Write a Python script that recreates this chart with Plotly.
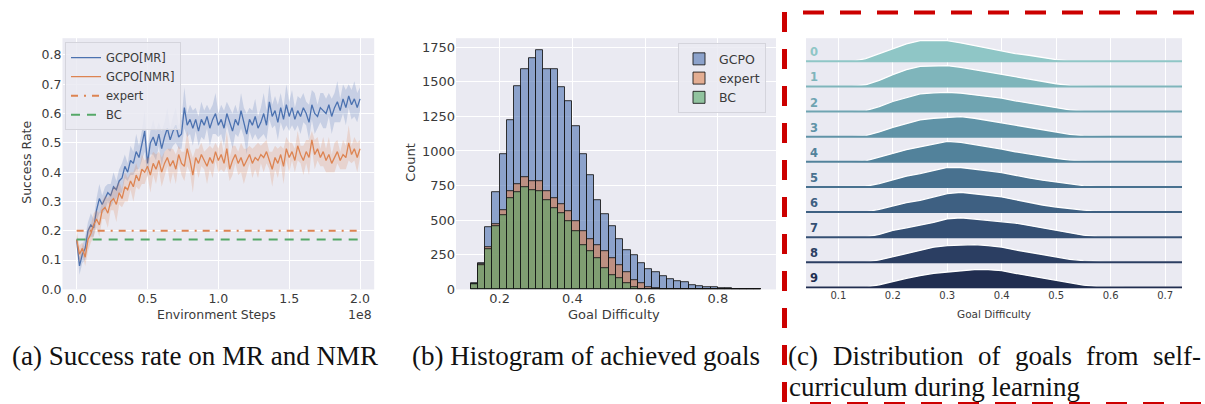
import plotly.graph_objects as go

# ---------------- DATA ----------------
# (a) success rate curves, x in units of environment steps
STEP_INTERVAL = 2e6
GCPO_MR = [0.17, 0.08, 0.12, 0.14, 0.20, 0.22, 0.21, 0.27, 0.31, 0.29,
           0.31, 0.33, 0.32, 0.35, 0.34, 0.37, 0.38, 0.42, 0.40, 0.44,
           0.43, 0.47, 0.45, 0.49, 0.54, 0.43, 0.50, 0.52, 0.49, 0.53,
           0.48, 0.52, 0.55, 0.51, 0.54, 0.56, 0.52, 0.53, 0.62, 0.56,
           0.58, 0.55, 0.58, 0.54, 0.58, 0.56, 0.59, 0.55, 0.58, 0.60,
           0.56, 0.58, 0.55, 0.60, 0.57, 0.54, 0.58, 0.56, 0.61, 0.57,
           0.53, 0.58, 0.56, 0.59, 0.55, 0.57, 0.60, 0.56, 0.64, 0.59,
           0.61, 0.57, 0.62, 0.58, 0.63, 0.59, 0.62, 0.58, 0.61, 0.59,
           0.62, 0.60, 0.57, 0.63, 0.60, 0.59, 0.62, 0.61, 0.60, 0.63,
           0.59, 0.62, 0.64, 0.61, 0.65, 0.62, 0.66, 0.63, 0.65, 0.62,
           0.65]
GCPO_MR_SPREAD = [0.02, 0.03, 0.03, 0.04, 0.03, 0.04, 0.03, 0.04, 0.05, 0.03,
                  0.04, 0.03, 0.04, 0.05, 0.03, 0.04, 0.05, 0.04, 0.03, 0.05,
                  0.04, 0.06, 0.04, 0.05, 0.07, 0.05, 0.04, 0.06, 0.05, 0.04,
                  0.06, 0.05, 0.07, 0.04, 0.05, 0.06, 0.04, 0.05, 0.07, 0.04,
                  0.05, 0.06, 0.04, 0.05, 0.06, 0.05, 0.04, 0.06, 0.05, 0.07,
                  0.04, 0.05, 0.06, 0.04, 0.05, 0.06, 0.05, 0.04, 0.06, 0.05,
                  0.07, 0.04, 0.05, 0.06, 0.04, 0.05, 0.07, 0.05, 0.06, 0.04,
                  0.05, 0.06, 0.05, 0.04, 0.07, 0.05, 0.06, 0.04, 0.05, 0.06,
                  0.05, 0.04, 0.06, 0.05, 0.07, 0.04, 0.05, 0.06, 0.05, 0.04,
                  0.06, 0.05, 0.07, 0.04, 0.05, 0.06, 0.04, 0.05, 0.06, 0.05,
                  0.04]
GCPO_NMR = [0.17, 0.12, 0.14, 0.11, 0.17, 0.19, 0.22, 0.24, 0.22, 0.27,
            0.28, 0.26, 0.30, 0.31, 0.29, 0.33, 0.31, 0.35, 0.34, 0.37,
            0.35, 0.39, 0.37, 0.41, 0.40, 0.42, 0.39, 0.43, 0.41, 0.44,
            0.40, 0.43, 0.45, 0.42, 0.44, 0.41, 0.46, 0.43, 0.42, 0.48,
            0.44, 0.39, 0.45, 0.43, 0.46, 0.44, 0.42, 0.45, 0.43, 0.47,
            0.44, 0.46, 0.43, 0.48, 0.41, 0.44, 0.46, 0.43, 0.45, 0.42,
            0.44, 0.46, 0.43, 0.45, 0.44, 0.46, 0.45, 0.47, 0.44, 0.41,
            0.45, 0.43, 0.46, 0.42, 0.48, 0.45, 0.47, 0.44, 0.49, 0.46,
            0.44, 0.47, 0.45, 0.51, 0.46, 0.48, 0.45, 0.47, 0.44, 0.46,
            0.43, 0.45, 0.47, 0.44, 0.46, 0.45, 0.50, 0.46, 0.48, 0.45,
            0.48]
GCPO_NMR_SPREAD = [0.03, 0.03, 0.02, 0.03, 0.04, 0.03, 0.04, 0.03, 0.04, 0.03,
                   0.04, 0.05, 0.03, 0.04, 0.06, 0.04, 0.03, 0.05, 0.04, 0.03,
                   0.05, 0.04, 0.03, 0.05, 0.04, 0.03, 0.06, 0.04, 0.05, 0.03,
                   0.05, 0.04, 0.03, 0.06, 0.04, 0.05, 0.03, 0.04, 0.05, 0.06,
                   0.04, 0.06, 0.03, 0.05, 0.04, 0.03, 0.06, 0.04, 0.05, 0.03,
                   0.04, 0.05, 0.03, 0.06, 0.04, 0.05, 0.03, 0.04, 0.05, 0.06,
                   0.04, 0.03, 0.05, 0.04, 0.06, 0.03, 0.05, 0.04, 0.03, 0.06,
                   0.04, 0.05, 0.03, 0.06, 0.04, 0.05, 0.03, 0.04, 0.05, 0.03,
                   0.05, 0.04, 0.06, 0.03, 0.05, 0.04, 0.03, 0.05, 0.04, 0.06,
                   0.03, 0.05, 0.04, 0.03, 0.05, 0.04, 0.06, 0.03, 0.04, 0.05,
                   0.03]
EXPERT_RATE = 0.20
BC_RATE = 0.17
A_XTICK_VALS = [0, 0.5e8, 1.0e8, 1.5e8, 2.0e8]
A_XTICK_TEXT = ["0.0", "0.5", "1.0", "1.5", "2.0"]

# (b) histogram of achieved goals (bin width 0.02 starting at 0.12)
HIST_START = 0.12
HIST_BIN = 0.02
HIST_GCPO = [43, 193, 447, 702, 980, 1221, 1468, 1588, 1673, 1728,
             1588, 1588, 1460, 1359, 1178, 978, 823, 647, 543, 454,
             365, 285, 244, 188, 145, 128, 97, 75, 56, 51,
             31, 27, 19, 19, 12, 7, 4, 3, 2, 2]
HIST_EXPERT = [40, 185, 302, 470, 575, 707, 760, 811, 785, 785,
               707, 659, 616, 562, 490, 418, 365, 321, 273, 225,
               176, 128, 68, 43, 19, 7, 3, 1, 0, 0,
               0, 0, 0, 0, 0, 0, 0, 0, 0, 0]
HIST_BC = [38, 176, 292, 454, 538, 659, 702, 736, 719, 712,
           647, 587, 550, 490, 422, 321, 273, 225, 152, 104,
           80, 43, 19, 5, 3, 0, 0, 0, 0, 0,
           0, 0, 0, 0, 0, 0, 0, 0, 0, 0]

# (c) ridge densities of goal difficulty per curriculum stage
RIDGE_X = [0.05, 0.075, 0.1, 0.125, 0.15, 0.175, 0.2, 0.225, 0.25, 0.275,
           0.3, 0.325, 0.35, 0.375, 0.4, 0.425, 0.45, 0.475, 0.5, 0.525,
           0.55, 0.575, 0.6, 0.625, 0.65, 0.675, 0.7, 0.725]
RIDGE_LABELS = ["0", "1", "2", "3", "4", "5", "6", "7", "8", "9"]
RIDGE_0 = [0, 0, 0, 0, 0.8, 2.2, 3.8, 5.2, 6.2, 6.3, 6.2, 5.5, 4.7, 3.9, 3.0, 2.3, 1.8, 1.1, 0.5, 0.1, 0, 0, 0, 0, 0, 0, 0, 0]
RIDGE_1 = [0, 0, 0, 0, 0.5, 1.8, 3.5, 5.0, 6.0, 6.1, 6.2, 5.7, 5.0, 4.4, 3.6, 2.9, 2.3, 1.4, 0.8, 0.3, 0.1, 0, 0, 0, 0, 0, 0, 0]
RIDGE_2 = [0, 0, 0, 0, 0.3, 1.5, 3.0, 4.2, 5.3, 5.6, 5.7, 5.5, 5.0, 4.6, 4.0, 3.2, 2.5, 1.8, 1.1, 0.5, 0.2, 0.05, 0, 0, 0, 0, 0, 0]
RIDGE_3 = [0, 0, 0, 0, 0.3, 1.4, 2.8, 4.0, 5.0, 5.5, 5.8, 6.0, 5.5, 4.8, 4.0, 3.3, 2.7, 2.1, 1.3, 0.7, 0.3, 0.1, 0.03, 0, 0, 0, 0, 0]
RIDGE_4 = [0, 0, 0, 0, 0.3, 1.3, 2.5, 3.6, 4.5, 5.4, 6.1, 5.8, 5.2, 4.5, 3.8, 3.0, 2.3, 1.7, 1.0, 0.5, 0.2, 0.05, 0, 0, 0, 0, 0, 0]
RIDGE_5 = [0, 0, 0, 0, 0.2, 1.0, 2.2, 3.2, 4.0, 4.8, 5.8, 5.8, 5.2, 4.8, 4.3, 3.4, 2.7, 2.0, 1.4, 0.8, 0.4, 0.1, 0.05, 0, 0, 0, 0, 0]
RIDGE_6 = [0, 0, 0, 0, 0.05, 0.8, 1.8, 2.8, 3.5, 4.4, 5.5, 5.9, 5.5, 5.0, 4.5, 3.7, 2.8, 2.1, 1.5, 1.0, 0.6, 0.3, 0.1, 0.03, 0, 0, 0, 0]
RIDGE_7 = [0, 0, 0, 0, 0.05, 0.8, 2.0, 2.8, 3.5, 4.4, 5.5, 5.8, 5.4, 5.0, 4.7, 4.2, 3.5, 2.8, 2.0, 1.2, 0.6, 0.2, 0.1, 0.03, 0, 0, 0, 0]
RIDGE_8 = [0, 0, 0, 0, 0.05, 0.7, 1.7, 2.7, 3.7, 4.5, 5.0, 5.2, 5.3, 5.0, 4.5, 3.7, 3.0, 2.2, 1.5, 0.9, 0.5, 0.2, 0.1, 0.05, 0.02, 0, 0, 0]
RIDGE_9 = [0, 0, 0, 0, 0.1, 0.8, 1.8, 2.7, 3.5, 4.2, 4.6, 5.0, 5.3, 5.3, 5.0, 4.2, 3.5, 2.8, 2.0, 1.3, 0.7, 0.3, 0.1, 0.05, 0.02, 0, 0, 0]
RIDGES = [RIDGE_0, RIDGE_1, RIDGE_2, RIDGE_3, RIDGE_4, RIDGE_5, RIDGE_6, RIDGE_7, RIDGE_8, RIDGE_9]
C_XTICKS = [0.1, 0.2, 0.3, 0.4, 0.5, 0.6, 0.7]

# captions
CAPTION_A = "(a) Success rate on MR and NMR"
CAPTION_B = "(b) Histogram of achieved goals"
CAPTION_C_LINE1 = ["(c)", "Distribution", "of", "goals", "from", "self-"]
CAPTION_C_LINE2 = "curriculum during learning"

# ---------------- STYLE ----------------
W, H = 1205, 414          # page is captured ~10px taller than 404; fill it
REF_H = 404               # layout positions below are measured on a 404-px-tall reference
BG = "#eaeaf2"
BLUE, ORANGE, GREEN = "#4c72b0", "#dd8452", "#55a868"
RIDGE_COLORS = ["#8fc6c6", "#7fb5bb", "#6fa4b1", "#6093a7", "#52829b",
                "#48718f", "#3e6082", "#344f73", "#2b3e62", "#212e50"]
SANS = "DejaVu Sans"
SERIF = "Liberation Serif"
TXT = "#3a3a3a"
RIDGE_STEP = 7.5
C_WORD_X = [787, 831.5, 976.5, 1013.5, 1085, 1152]   # justified word positions (px)


def xd(px):
    return px / W


def yd(px):
    return 1 - px / REF_H


def rgba(color, a):
    return f"rgba({int(color[1:3], 16)},{int(color[3:5], 16)},{int(color[5:7], 16)},{a})"


fig = go.Figure()

steps = [i * STEP_INTERVAL for i in range(len(GCPO_MR))]

# (a) bands + lines
for mean, spread, color, name in [(GCPO_MR, GCPO_MR_SPREAD, BLUE, "GCPO[MR]"),
                                   (GCPO_NMR, GCPO_NMR_SPREAD, ORANGE, "GCPO[NMR]")]:
    lo = [m - s for m, s in zip(mean, spread)]
    hi = [m + s for m, s in zip(mean, spread)]
    fig.add_trace(go.Scatter(x=steps, y=lo, mode="lines", line=dict(width=0),
                             showlegend=False, hoverinfo="skip", xaxis="x", yaxis="y"))
    fig.add_trace(go.Scatter(x=steps, y=hi, mode="lines", line=dict(width=0),
                             fill="tonexty", fillcolor=rgba(color, 0.22),
                             showlegend=False, hoverinfo="skip", xaxis="x", yaxis="y"))
    fig.add_trace(go.Scatter(x=steps, y=mean, mode="lines", name=name,
                             line=dict(color=color, width=1.3),
                             xaxis="x", yaxis="y", legend="legend"))

fig.add_trace(go.Scatter(x=[steps[0], steps[-1]], y=[EXPERT_RATE, EXPERT_RATE], mode="lines",
                         name="expert", line=dict(color=ORANGE, width=2, dash="7px,6px,2px,6px"),
                         xaxis="x", yaxis="y", legend="legend"))
fig.add_trace(go.Scatter(x=[steps[0], steps[-1]], y=[BC_RATE, BC_RATE], mode="lines",
                         name="BC", line=dict(color=GREEN, width=2, dash="9px,7px"),
                         xaxis="x", yaxis="y", legend="legend"))

# (b) histogram
centers = [HIST_START + HIST_BIN * (i + 0.5) for i in range(len(HIST_GCPO))]
for counts, color, name in [(HIST_GCPO, BLUE, "GCPO"), (HIST_EXPERT, ORANGE, "expert"),
                            (HIST_BC, GREEN, "BC")]:
    fig.add_trace(go.Bar(x=centers, y=counts, width=HIST_BIN, name=name,
                         marker=dict(color=rgba(color, 0.6),
                                     line=dict(color="rgba(20,20,20,0.85)", width=1)),
                         xaxis="x2", yaxis="y2", legend="legend2"))

# (c) ridges
shapes = []
annotations = []
for k, dens in enumerate(RIDGES):
    base = (len(RIDGES) - 1 - k) * RIDGE_STEP
    xs = RIDGE_X + [RIDGE_X[-1], RIDGE_X[0]]
    ys = [base + d for d in dens] + [base, base]
    fig.add_trace(go.Scatter(x=xs, y=ys, mode="lines", fill="toself",
                             fillcolor=RIDGE_COLORS[k], line=dict(width=0),
                             showlegend=False, hoverinfo="skip", xaxis="x3", yaxis="y3"))
    fig.add_trace(go.Scatter(x=RIDGE_X, y=[base + d for d in dens], mode="lines",
                             line=dict(color="white", width=1.3),
                             showlegend=False, hoverinfo="skip", xaxis="x3", yaxis="y3"))
    shapes.append(dict(type="line", xref="x3 domain", yref="y3", x0=0, x1=1, y0=base, y1=base,
                       line=dict(color=RIDGE_COLORS[k], width=2)))
    annotations.append(dict(text=f"<b>{RIDGE_LABELS[k]}</b>", xref="x3 domain", yref="y3",
                            x=0.005, y=base, xanchor="left", yanchor="bottom", showarrow=False,
                            font=dict(family=SANS, size=11.5, color=RIDGE_COLORS[k])))

# red dashed box (kept inside the page)
RED = "#cc0000"
shapes += [
    dict(type="line", xref="paper", yref="paper", x0=xd(784.5), x1=xd(784.5), y0=yd(12), y1=0,
         line=dict(color=RED, width=5, dash="20px,17px")),
    dict(type="line", xref="paper", yref="paper", x0=xd(803), x1=1, y0=yd(12.5), y1=yd(12.5),
         line=dict(color=RED, width=4, dash="21px,16px")),
    dict(type="line", xref="paper", yref="paper", x0=xd(810), x1=1, y0=yd(402), y1=yd(402),
         line=dict(color=RED, width=4, dash="21px,16px")),
]


def ann(text, x, y, size, family=SANS, color=TXT, angle=0, xanchor="center"):
    annotations.append(dict(text=text, xref="paper", yref="paper", x=xd(x), y=yd(y),
                            xanchor=xanchor, yanchor="middle", showarrow=False, textangle=angle,
                            borderpad=0, font=dict(family=family, size=size, color=color)))


ann("Success Rate", 27, 162, 12.5, angle=-90)
ann("Environment Steps", 216, 313, 12.5)
ann("1e8", 373, 313, 12.5, xanchor="right")
ann("Count", 411, 162, 13, angle=-90)
ann("Goal Difficulty", 614, 313, 13)
ann("Goal Difficulty", 994, 312, 10.5)

ann(CAPTION_A, 195, 354.5, 27, family=SERIF, color="#111")
ann(CAPTION_B, 586, 354.5, 27, family=SERIF, color="#111")
for word, xpos in zip(CAPTION_C_LINE1, C_WORD_X):
    ann(word, xpos, 354, 27, family=SERIF, color="#111", xanchor="left")
ann(CAPTION_C_LINE2, 788, 385, 27, family=SERIF, color="#111", xanchor="left")

axis_common = dict(showline=False, zeroline=False, ticks="", gridcolor="white", gridwidth=1.2)

fig.update_layout(
    width=W, height=H, margin=dict(l=0, r=0, t=0, b=0),
    paper_bgcolor="white", plot_bgcolor=BG,
    barmode="overlay", bargap=0,
    shapes=shapes, annotations=annotations,
    xaxis=dict(domain=[xd(62.5), xd(374.2)], range=[-0.1e8, 2.1e8], anchor="y",
               tickvals=A_XTICK_VALS, ticktext=A_XTICK_TEXT,
               tickfont=dict(family=SANS, size=12.5, color=TXT), **axis_common),
    yaxis=dict(domain=[yd(288), yd(38)], range=[0, 0.857], anchor="x", dtick=0.1, tick0=0,
               tickformat=".1f", tickfont=dict(family=SANS, size=12.5, color=TXT), **axis_common),
    xaxis2=dict(domain=[xd(456), xd(776)], range=[0.08, 0.96], anchor="y2",
                tickvals=[0.2, 0.4, 0.6, 0.8], tickformat=".1f",
                tickfont=dict(family=SANS, size=13, color=TXT), **axis_common),
    yaxis2=dict(domain=[yd(288), yd(38)], range=[0, 1815], anchor="x2", dtick=250, tick0=0,
                tickfont=dict(family=SANS, size=13, color=TXT), **axis_common),
    xaxis3=dict(domain=[xd(806), xd(1182)], range=[0.0406, 0.731], anchor="y3",
                tickvals=C_XTICKS, tickformat=".1f",
                tickfont=dict(family=SANS, size=10, color=TXT), **axis_common),
    yaxis3=dict(domain=[yd(287), yd(38)], range=[-0.3, 74.4], anchor="x3",
                showticklabels=False, showgrid=False, showline=False, zeroline=False, ticks=""),
    legend=dict(x=xd(65), y=yd(42), xanchor="left", yanchor="top", traceorder="normal",
                bgcolor="rgba(234,234,242,0.85)", bordercolor="#d4d4dc", borderwidth=1,
                font=dict(family=SANS, size=11.5, color=TXT), tracegroupgap=0, itemwidth=30),
    legend2=dict(x=xd(766), y=yd(43), xanchor="right", yanchor="top", traceorder="normal",
                 bgcolor="rgba(234,234,242,0.85)", bordercolor="#d4d4dc", borderwidth=1,
                 font=dict(family=SANS, size=12.5, color=TXT), tracegroupgap=0, itemwidth=30),
    showlegend=True,
)

PAGE_FIX = ("document.documentElement.style.margin='0px';"
            "document.body.style.margin='0px';"
            "document.documentElement.style.overflow='hidden';"
            "document.body.style.overflow='hidden';")
fig.write_html("out.html", config={"displayModeBar": False}, post_script=PAGE_FIX)
